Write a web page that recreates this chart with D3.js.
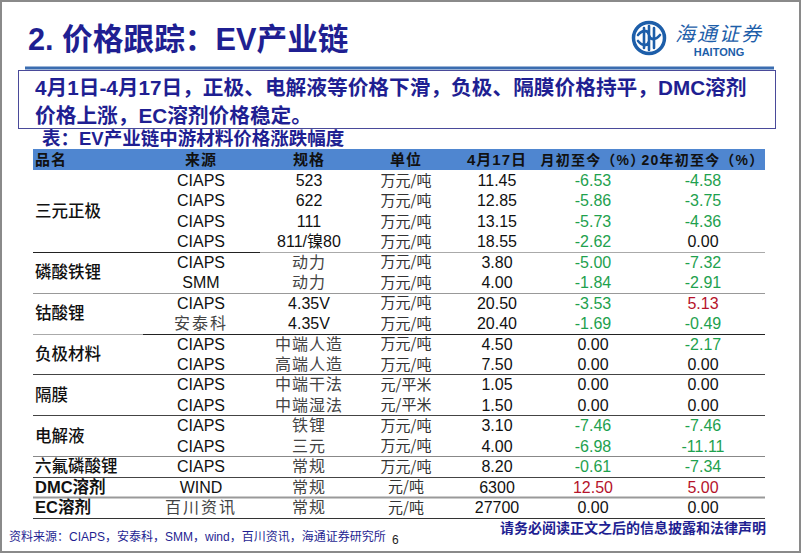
<!DOCTYPE html>
<html>
<head>
<meta charset="utf-8">
<script src="https://cdn.jsdelivr.net/npm/d3@7"></script>
<style>
  body { margin: 0; background: #fff; }
  svg { display: block; }
</style>
</head>
<body>
<div id="slide"></div>
<script>
// table data
const groups = ['三元正极', '磷酸铁锂', '钴酸锂', '负极材料', '隔膜', '电解液', '六氟磷酸锂', 'DMC溶剂', 'EC溶剂'];
const groupSpans = [4, 2, 2, 2, 2, 2, 1, 1, 1];
const sources = ['CIAPS', 'CIAPS', 'CIAPS', 'CIAPS', 'CIAPS', 'SMM', 'CIAPS', '安泰科', 'CIAPS', 'CIAPS', 'CIAPS', 'CIAPS', 'CIAPS', 'CIAPS', 'CIAPS', 'WIND', '百川资讯'];
const specs = ['523', '622', '111', '811/镍80', '动力', '动力', '4.35V', '4.35V', '中端人造', '高端人造', '中端干法', '中端湿法', '铁锂', '三元', '常规', '常规', '常规'];
const units = ['万元/吨', '万元/吨', '万元/吨', '万元/吨', '万元/吨', '万元/吨', '万元/吨', '万元/吨', '万元/吨', '万元/吨', '元/平米', '元/平米', '万元/吨', '万元/吨', '万元/吨', '元/吨', '元/吨'];
const prices = ['11.45', '12.85', '13.15', '18.55', '3.80', '4.00', '20.50', '20.40', '4.50', '7.50', '1.05', '1.50', '3.10', '4.00', '8.20', '6300', '27700'];
const mtd = [-6.53, -5.86, -5.73, -2.62, -5.00, -1.84, -3.53, -1.69, 0.00, 0.00, 0.00, 0.00, -7.46, -6.98, -0.61, 12.50, 0.00];
const ytd = [-4.58, -3.75, -4.36, 0.00, -7.32, -2.91, 5.13, -0.49, -2.17, 0.00, 0.00, 0.00, -7.46, -11.11, -7.34, 5.00, 0.00];
const headers = ['品名', '来源', '规格', '单位', '4月17日', '月初至今（%）', '20年初至今（%）'];

const W = 802, H = 554;
const navy = '#1f1f92';
const green = '#1ea14e';
const red = '#b5132b';
const cjk = '"Noto Sans CJK SC", sans-serif';
const latin = '"Liberation Sans", Arial, sans-serif';

const svg = d3.select('#slide').append('svg')
  .attr('width', W).attr('height', H)
  .attr('viewBox', `0 0 ${W} ${H}`);

// slide frame
svg.append('rect')
  .attr('x', 1).attr('y', 1).attr('width', W - 3).attr('height', H - 3)
  .attr('fill', '#fff').attr('stroke', '#8a8a8a').attr('stroke-width', 2);

// title
svg.append('text')
  .attr('x', 28).attr('y', 50)
  .attr('fill', navy)
  .attr('font-family', latin + ',' + cjk)
  .attr('font-weight', 'bold')
  .attr('font-size', 30.7)
  .text('2. 价格跟踪：EV产业链');

// logo
const logo = svg.append('g').attr('transform', 'translate(649,38)');
logo.append('circle').attr('r', 15.5).attr('fill', 'none').attr('stroke', '#1d5ea9').attr('stroke-width', 3.5);
logo.append('path')
  .attr('d', 'M-11,-3 C-6,-9 -1,-8 0,-3 C1,2 6,3 11,-3 M-11,3 C-6,9 -1,8 0,3 M0,-12 L0,12 M-5,-10 L-5,10 M5,-10 L5,10')
  .attr('fill', 'none').attr('stroke', '#1d5ea9').attr('stroke-width', 2.6).attr('stroke-linecap', 'round');
svg.append('text')
  .attr('x', 719).attr('y', 41)
  .attr('text-anchor', 'middle')
  .attr('fill', '#1d5ea9')
  .attr('font-family', cjk)
  .attr('font-size', 20)
  .attr('font-style', 'italic')
  .attr('letter-spacing', 2)
  .text('海通证券');
svg.append('text')
  .attr('x', 719).attr('y', 56)
  .attr('text-anchor', 'middle')
  .attr('fill', '#1d5ea9')
  .attr('font-family', latin)
  .attr('font-weight', 'bold')
  .attr('font-size', 11)
  .text('HAITONG');

// rule under title
svg.append('rect')
  .attr('x', 25).attr('y', 66.5).attr('width', 749).attr('height', 3)
  .attr('fill', '#3b6db0');

// summary box
svg.append('rect')
  .attr('x', 18.5).attr('y', 70.5).attr('width', 757).attr('height', 58)
  .attr('fill', '#fff').attr('stroke', '#4a4a9a').attr('stroke-width', 1);

const boxLines = [
  '4月1日-4月17日，正极、电解液等价格下滑，负极、隔膜价格持平，DMC溶剂',
  '价格上涨，EC溶剂价格稳定。'
];
svg.selectAll('.boxline')
  .data(boxLines).enter()
  .append('text')
  .attr('class', 'boxline')
  .attr('x', 35)
  .attr('y', (d, i) => 95 + i * 28)
  .attr('fill', navy)
  .attr('font-family', latin + ',' + cjk)
  .attr('font-weight', 'bold')
  .attr('font-size', 20.7)
  .text(d => d);

// caption
svg.append('text')
  .attr('x', 42).attr('y', 145)
  .attr('fill', navy)
  .attr('font-family', latin + ',' + cjk)
  .attr('font-weight', 'bold')
  .attr('font-size', 18.5)
  .text('表：EV产业链中游材料价格涨跌幅度');

// table
const tableLeft = 33, tableRight = 765;
const colX = [35, 201, 309, 406, 497, 593, 703];

const y = d3.scaleBand()
  .domain(d3.range(sources.length))
  .range([170, 517.5]);

const table = svg.append('g');

table.append('rect')
  .attr('x', tableLeft).attr('y', 149).attr('width', tableRight - tableLeft).attr('height', 21)
  .attr('fill', '#4f86d0');

table.selectAll('.hdr')
  .data(headers).enter()
  .append('text')
  .attr('class', 'hdr')
  .attr('x', (d, i) => colX[i])
  .attr('y', 160)
  .attr('dy', '0.36em')
  .attr('text-anchor', (d, i) => i === 0 ? 'start' : 'middle')
  .attr('fill', '#111')
  .attr('font-family', latin + ',' + cjk)
  .attr('font-weight', 'bold')
  .attr('font-size', (d, i) => i >= 5 ? 14 : 15)
  .attr('letter-spacing', (d, i) => i >= 5 ? 1.2 : 1)
  .text(d => d);

// group labels
let start = 0;
const groupRows = groups.map((g, i) => {
  const r = { name: g, first: start, last: start + groupSpans[i] - 1 };
  start += groupSpans[i];
  return r;
});

table.selectAll('.grp')
  .data(groupRows).enter()
  .append('text')
  .attr('class', 'grp')
  .attr('x', colX[0])
  .attr('y', d => (y(d.first) + y(d.last) + y.bandwidth()) / 2)
  .attr('dy', '0.36em')
  .attr('fill', '#111')
  .attr('font-family', latin + ',' + cjk)
  .attr('font-weight', d => /[A-Z]/.test(d.name) ? 'bold' : 500)
  .attr('font-size', 16.5)
  .text(d => d.name);

const rows = table.selectAll('.row')
  .data(sources.map((s, i) => i)).enter()
  .append('g')
  .attr('class', 'row')
  .attr('transform', i => `translate(0, ${y(i) + y.bandwidth() / 2})`);

const cell = (sel, x, txt, fill, fam, size) => sel.append('text')
  .attr('x', x)
  .attr('dy', '0.36em')
  .attr('text-anchor', 'middle')
  .attr('fill', fill)
  .attr('font-family', fam)
  .attr('font-size', size)
  .text(txt);

const isCjk = s => /[\u4e00-\u9fff]/.test(s) && !/^[0-9]/.test(s);
const valColor = v => v < 0 ? green : (v > 0 ? red : '#111');

rows.each(function (i) {
  const g = d3.select(this);
  cell(g, colX[1], sources[i], isCjk(sources[i]) ? '#444' : '#111', isCjk(sources[i]) ? cjk : latin, 16)
    .attr('letter-spacing', isCjk(sources[i]) ? 2 : 0);
  cell(g, colX[2], specs[i], isCjk(specs[i]) ? '#444' : '#111', latin + ',' + cjk, 16)
    .attr('letter-spacing', isCjk(specs[i]) ? 1 : 0);
  cell(g, colX[3], units[i], '#333', cjk, 15);
  cell(g, colX[4], prices[i], '#111', latin, 16);
  cell(g, colX[5], mtd[i].toFixed(2), valColor(mtd[i]), latin, 16);
  cell(g, colX[6], ytd[i].toFixed(2), valColor(ytd[i]), latin, 16);
});

// separators: after row index, segments [x1, x2, color]
const separators = [
  { row: 3, segs: [[tableLeft, 260, '#222'], [260, tableRight, '#aaa']] },
  { row: 5, segs: [[tableLeft, tableRight, '#999']] },
  { row: 7, segs: [[tableLeft, 143, '#aaa'], [143, tableRight, '#222']] },
  { row: 9, segs: [[tableLeft, tableRight, '#444']] },
  { row: 11, segs: [[tableLeft, tableRight, '#444']] },
  { row: 13, segs: [[tableLeft, tableRight, '#888']] },
  { row: 14, segs: [[tableLeft, tableRight, '#444']] },
  { row: 15, segs: [[tableLeft, tableRight, '#999']] },
  { row: 16, segs: [[tableLeft, tableRight, '#333']] }
];
separators.forEach(s => {
  const yy = Math.round(y(s.row) + y.bandwidth()) + 0.5;
  s.segs.forEach(([x1, x2, c]) => {
    table.append('line')
      .attr('x1', x1).attr('x2', x2)
      .attr('y1', yy).attr('y2', yy)
      .attr('stroke', c)
      .attr('stroke-width', s.row === 15 ? 2 : 1);
  });
});

// footer
svg.append('text')
  .attr('x', 9).attr('y', 541)
  .attr('fill', navy)
  .attr('font-family', latin + ',' + cjk)
  .attr('font-size', 12)
  .text('资料来源：CIAPS，安泰科，SMM，wind，百川资讯，海通证券研究所');
svg.append('text')
  .attr('x', 392).attr('y', 544)
  .attr('fill', '#222')
  .attr('font-family', latin)
  .attr('font-size', 12)
  .text('6');
svg.append('text')
  .attr('x', 766).attr('y', 533)
  .attr('text-anchor', 'end')
  .attr('fill', navy)
  .attr('font-family', cjk)
  .attr('font-weight', 'bold')
  .attr('font-size', 14)
  .text('请务必阅读正文之后的信息披露和法律声明');
</script>
</body>
</html>
